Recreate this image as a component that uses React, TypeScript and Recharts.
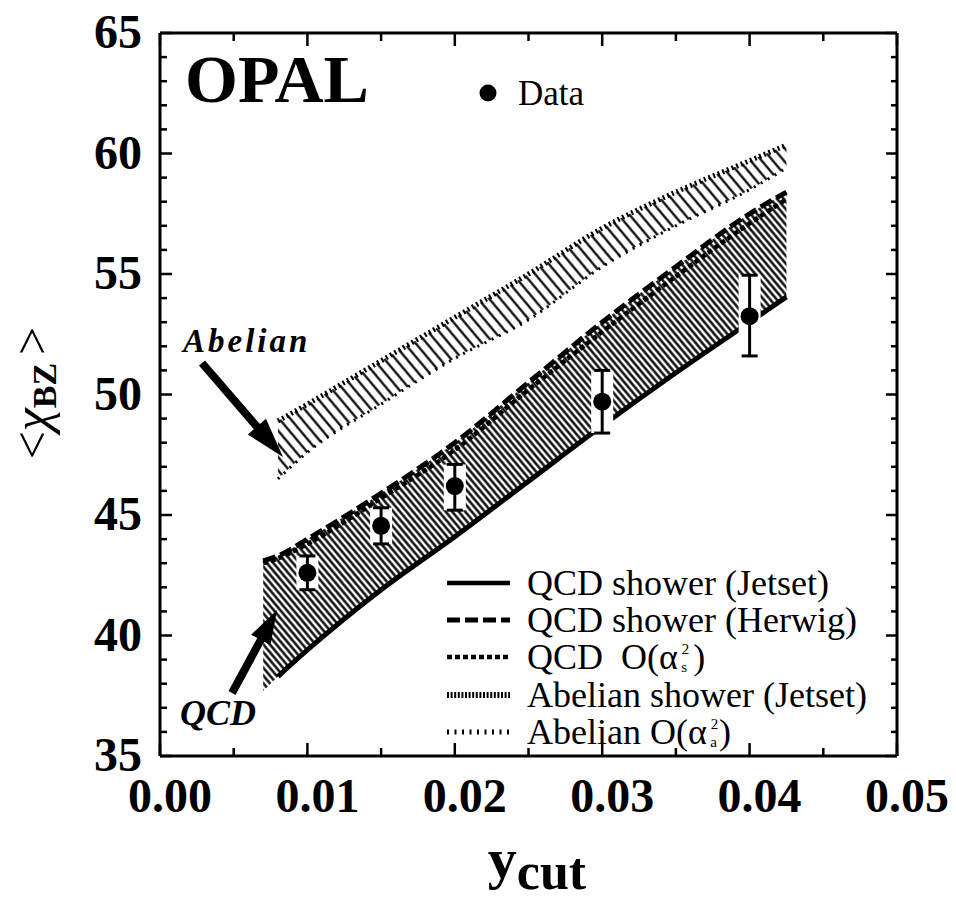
import React from 'react';
import { ComposedChart, Area, Line, Scatter, XAxis, YAxis, ErrorBar } from 'recharts';

// ---- data ----
const xs = [0.007, 0.008, 0.01, 0.015, 0.02, 0.025, 0.03, 0.035, 0.04, 0.0425];
const qcdBandLow = [37.7, 38.3, 39.4, 41.9, 44.1, 46.4, 48.7, 50.9, 53.0, 54.05];
const qcdJetset = [null, 38.3, 39.4, 41.9, 44.1, 46.4, 48.7, 50.9, 53.0, 54.05];
const qcdHerwig = [43.1, 43.3, 44.0, 45.9, 48.0, 50.5, 53.0, 55.3, 57.5, 58.4];
const qcdOas = [43.0, 43.2, 43.8, 45.7, 47.7, 50.2, 52.6, 54.9, 57.1, 58.1];
const abelianJetset = [null, 48.9, 49.6, 51.4, 53.2, 55.0, 56.9, 58.4, 59.7, 60.35];
const abelianOaa = [null, 46.5, 47.6, 49.6, 51.5, 53.1, 55.3, 57.0, 58.5, 59.4];

const dataX = [0.01, 0.015, 0.02, 0.03, 0.04];
const dataY = [42.6, 44.55, 46.2, 49.7, 53.25];
const dataErrLow = [0.7, 0.75, 1.0, 1.3, 1.65];
const dataErrHigh = [0.7, 0.75, 0.9, 1.3, 1.7];

const xTicks = [0, 0.005, 0.01, 0.015, 0.02, 0.025, 0.03, 0.035, 0.04, 0.045, 0.05];
const yTicks = [35, 36, 37, 38, 39, 40, 41, 42, 43, 44, 45, 46, 47, 48, 49, 50, 51, 52, 53, 54, 55,
  56, 57, 58, 59, 60, 61, 62, 63, 64, 65];

const legendLabels = ['QCD shower (Jetset)', 'QCD shower (Herwig)', 'QCD  O(α', 'Abelian shower (Jetset)', 'Abelian O(α'];

const table = xs.map((x, i) => ({
  x,
  qlo: qcdBandLow[i],
  jet: qcdJetset[i],
  her: qcdHerwig[i],
  oas: qcdOas[i],
  aj: abelianJetset[i],
  ao: abelianOaa[i],
}));
const points = dataX.map((x, i) => ({ x, y: dataY[i], err: [dataErrLow[i], dataErrHigh[i]] }));

const FONT = '"Liberation Serif", "Times New Roman", serif';
const W = 948;
const H = 900;

const isMajorX = (v: number) => Math.round(v * 1000) % 10 === 0;
const isMajorY = (v: number) => Math.round(v) % 5 === 0;

const BottomTick = (p: any) => {
  const v = p.payload.value;
  const major = isMajorX(v);
  return (
    <g>
      <line x1={p.x} x2={p.x} y1={p.y} y2={p.y - (major ? 13 : 8)} stroke="#000" strokeWidth={2.5} />
      {major && (
        <text x={p.x + 10} y={p.y + 56} textAnchor="middle" fontFamily={FONT} fontWeight="bold" fontSize={48} fill="#000">
          {v.toFixed(2)}
        </text>
      )}
    </g>
  );
};
const TopTick = (p: any) => {
  const major = isMajorX(p.payload.value);
  return <line x1={p.x} x2={p.x} y1={p.y} y2={p.y + (major ? 13 : 8)} stroke="#000" strokeWidth={2.5} />;
};
const LeftTick = (p: any) => {
  const v = p.payload.value;
  const major = isMajorY(v);
  return (
    <g>
      <line x1={p.x} x2={p.x + (major ? 12 : 7)} y1={p.y} y2={p.y} stroke="#000" strokeWidth={2.5} />
      {major && (
        <text x={p.x - 18} y={p.y + 15} textAnchor="end" fontFamily={FONT} fontWeight="bold" fontSize={48} fill="#000">
          {v}
        </text>
      )}
    </g>
  );
};
const RightTick = (p: any) => {
  const major = isMajorY(p.payload.value);
  return <line x1={p.x} x2={p.x - (major ? 11 : 6)} y1={p.y} y2={p.y} stroke="#000" strokeWidth={2.5} />;
};

function arrowPoints(x1: number, y1: number, x2: number, y2: number, shaft: number, headLen: number, headW: number) {
  const dx = x2 - x1, dy = y2 - y1;
  const L = Math.hypot(dx, dy);
  const ux = dx / L, uy = dy / L;
  const nx = -uy, ny = ux;
  const bx = x2 - ux * headLen, by = y2 - uy * headLen;
  const pts = [
    [x1 + nx * shaft / 2, y1 + ny * shaft / 2],
    [bx + nx * shaft / 2, by + ny * shaft / 2],
    [bx + nx * headW / 2, by + ny * headW / 2],
    [x2, y2],
    [bx - nx * headW / 2, by - ny * headW / 2],
    [bx - nx * shaft / 2, by - ny * shaft / 2],
    [x1 - nx * shaft / 2, y1 - ny * shaft / 2],
  ];
  return pts.map((q) => q.join(',')).join(' ');
}

const legendStyles = [
  { dash: undefined, w: 4.5 },
  { dash: '13 5', w: 5 },
  { dash: '5 3', w: 4.5 },
  { dash: '2 1.6', w: 6 },
  { dash: '2 5.5', w: 5 },
];
const legendRowsY = [583, 620, 657, 695, 732];

export default function App() {
  return (
    <div style={{ margin: '-8px 0 0 -8px', width: W, height: H }}>
      <ComposedChart width={W} height={H} data={table} margin={{ top: 32, right: 50, bottom: 0, left: 0 }}>
        <defs>
          <pattern id="qcdHatch" width="5" height="5" patternUnits="userSpaceOnUse" patternTransform="rotate(-40)">
            <line x1="2.5" y1="0" x2="2.5" y2="5" stroke="#000" strokeWidth="2.4" />
          </pattern>
          <pattern id="abHatch" width="8.5" height="8.5" patternUnits="userSpaceOnUse" patternTransform="rotate(-40)">
            <line x1="4.25" y1="0" x2="4.25" y2="8.5" stroke="#000" strokeWidth="2.2" />
          </pattern>
        </defs>
        <XAxis
          dataKey="x"
          type="number"
          xAxisId={0}
          domain={[0, 0.05]}
          ticks={xTicks}
          interval={0}
          allowDataOverflow
          height={144}
          tickSize={0}
          tickMargin={0}
          tickLine={false}
          tick={<BottomTick />}
          axisLine={{ stroke: '#000', strokeWidth: 3 }}
        />
        <XAxis
          dataKey="x"
          type="number"
          xAxisId="top"
          orientation="top"
          domain={[0, 0.05]}
          ticks={xTicks}
          interval={0}
          allowDataOverflow
          height={1}
          tickSize={0}
          tickMargin={0}
          tickLine={false}
          tick={<TopTick />}
          axisLine={{ stroke: '#000', strokeWidth: 3 }}
        />
        <YAxis
          yAxisId={0}
          type="number"
          domain={[35, 65]}
          ticks={yTicks}
          interval={0}
          allowDataOverflow
          width={160}
          tickSize={0}
          tickMargin={0}
          tickLine={false}
          tick={<LeftTick />}
          axisLine={{ stroke: '#000', strokeWidth: 3 }}
        />
        <YAxis
          yAxisId="right"
          orientation="right"
          type="number"
          domain={[35, 65]}
          ticks={yTicks}
          interval={0}
          allowDataOverflow
          width={1}
          tickSize={0}
          tickMargin={0}
          tickLine={false}
          tick={<RightTick />}
          axisLine={{ stroke: '#000', strokeWidth: 3 }}
        />

        <Area
          type="monotone"
          dataKey={(d: any) => (d.ao == null ? null : [d.ao, d.aj])}
          stroke="none"
          fill="url(#abHatch)"
          fillOpacity={1}
          isAnimationActive={false}
          activeDot={false}
        />
        <Area
          type="monotone"
          dataKey={(d: any) => [d.qlo, d.her]}
          stroke="none"
          fill="url(#qcdHatch)"
          fillOpacity={1}
          isAnimationActive={false}
          activeDot={false}
        />
        <Line type="monotone" dataKey="ao" stroke="#000" strokeWidth={3} strokeDasharray="2 6" dot={false} activeDot={false} isAnimationActive={false} />
        <Line type="monotone" dataKey="aj" stroke="#000" strokeWidth={5} strokeDasharray="2 3" dot={false} activeDot={false} isAnimationActive={false} />
        <Line type="monotone" dataKey="oas" stroke="#000" strokeWidth={4.5} strokeDasharray="5 3" dot={false} activeDot={false} isAnimationActive={false} />
        <Line type="monotone" dataKey="her" stroke="#000" strokeWidth={5} strokeDasharray="13 5" dot={false} activeDot={false} isAnimationActive={false} />
        <Line type="monotone" dataKey="jet" stroke="#000" strokeWidth={5} dot={false} activeDot={false} isAnimationActive={false} />

        <Scatter
          data={points}
          dataKey="y"
          isAnimationActive={false}
          shape={(p: any) => <circle cx={p.cx} cy={p.cy} r={9} fill="#000" />}
        >
          <ErrorBar dataKey="err" direction="y" width={0} stroke="#fff" strokeWidth={22} isAnimationActive={false} />
          <ErrorBar dataKey="err" direction="y" width={8} stroke="#000" strokeWidth={3} isAnimationActive={false} />
        </Scatter>

        {/* annotations */}
        <g fontFamily={FONT} fill="#000">
          <text x={185} y={102} fontSize={68} fontWeight="bold">OPAL</text>
          <circle cx={488} cy={93} r={8.5} fill="#000" />
          <text x={518} y={105} fontSize={35}>Data</text>

          <text x={183} y={352} fontSize={33} fontWeight="bold" fontStyle="italic" letterSpacing={3}>Abelian</text>
          <polygon points={arrowPoints(202, 363, 283, 457, 8, 40, 24)} fill="#000" />
          <text x={180} y={725} fontSize={36} fontWeight="bold" fontStyle="italic">QCD</text>
          <polygon points={arrowPoints(232, 693, 277, 610, 8, 34, 22)} fill="#000" />

          {legendStyles.map((s, i) => (
            <line key={i} x1={447} x2={510} y1={legendRowsY[i]} y2={legendRowsY[i]} stroke="#000" strokeWidth={s.w} strokeDasharray={s.dash} />
          ))}
          <text x={527} y={legendRowsY[0] + 12} fontSize={36}>{legendLabels[0]}</text>
          <text x={527} y={legendRowsY[1] + 12} fontSize={36}>{legendLabels[1]}</text>
          <text x={527} y={legendRowsY[2] + 12} fontSize={36} style={{ whiteSpace: 'pre' }}>
            {legendLabels[2]}
            <tspan fontSize={15} dx={4} dy={-15}>2</tspan>
            <tspan fontSize={15} dx={-8} dy={17.5}>s</tspan>
            <tspan fontSize={36} dx={6} dy={-2.5}>)</tspan>
          </text>
          <text x={527} y={legendRowsY[3] + 12} fontSize={36}>{legendLabels[3]}</text>
          <text x={527} y={legendRowsY[4] + 12} fontSize={36}>
            {legendLabels[4]}
            <tspan fontSize={15} dx={4} dy={-15}>2</tspan>
            <tspan fontSize={15} dx={-8} dy={17.5}>a</tspan>
            <tspan fontSize={36} dx={2} dy={-2.5}>)</tspan>
          </text>

          <text x={537} y={889} textAnchor="middle" fontWeight="bold">
            <tspan fontSize={58} dy={-11}>y</tspan>
            <tspan fontSize={52} dy={11}>cut</tspan>
          </text>

          <text transform="translate(34,393) rotate(-90)" x={0} y={15} textAnchor="middle">
            <tspan fontSize={50}>{'<'}</tspan>
            <tspan fontSize={52} fontStyle="italic">χ</tspan>
            <tspan fontSize={34} fontWeight="bold" dy={7}>BZ</tspan>
            <tspan fontSize={50} dx={8} dy={-7}>{'>'}</tspan>
          </text>
        </g>
      </ComposedChart>
    </div>
  );
}
